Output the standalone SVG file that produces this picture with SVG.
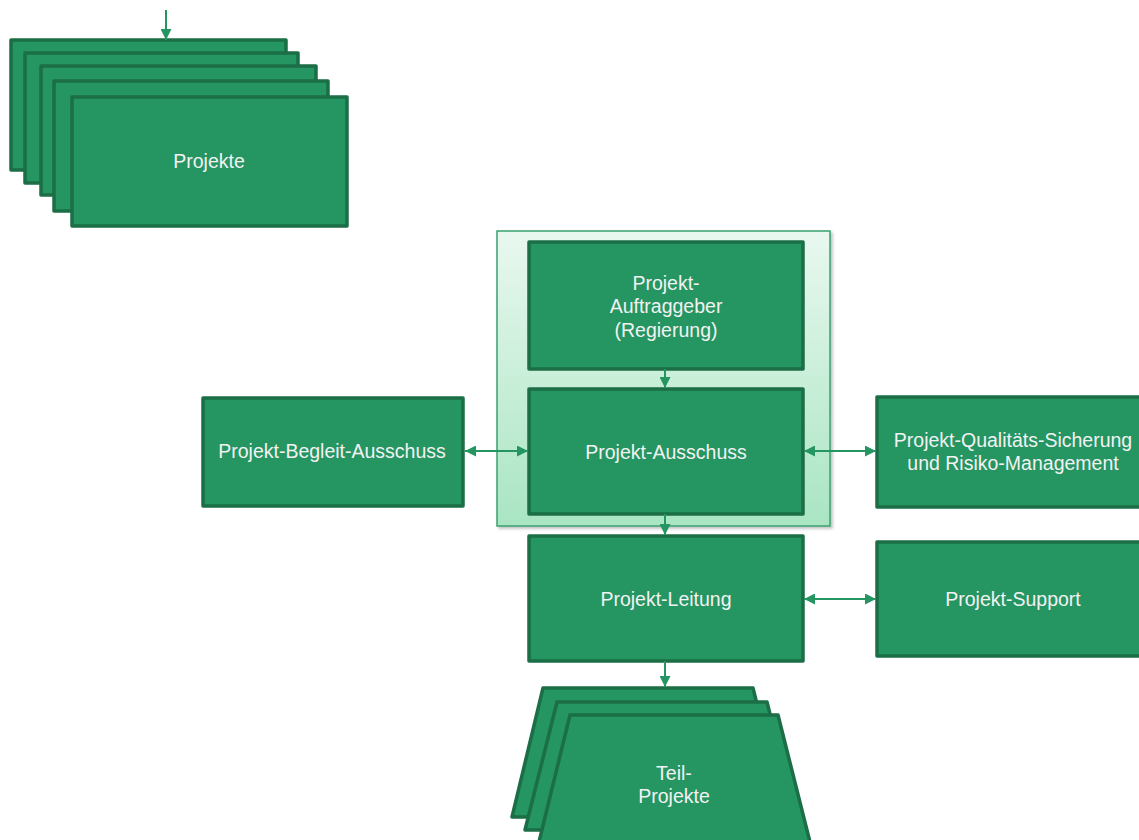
<svg xmlns="http://www.w3.org/2000/svg" width="1139" height="840" viewBox="0 0 1139 840">
<style>
.n{fill:#259562;stroke:#1b6e46;stroke-width:3.5;stroke-linejoin:round}
.t{font-family:"Liberation Sans",Arial,sans-serif;font-size:19.5px;fill:#f2f2f2;text-anchor:middle}
.c{stroke:#259562;stroke-width:2;fill:none}
</style>
<defs>
<linearGradient id="g" x1="0" y1="0" x2="0" y2="1">
<stop offset="0" stop-color="#e9f8ef"/>
<stop offset="1" stop-color="#a9e5c3"/>
</linearGradient>
<marker id="ah" viewBox="0 0 10 10" refX="10" refY="5" markerWidth="11" markerHeight="11" markerUnits="userSpaceOnUse" orient="auto-start-reverse">
<path d="M0,0 L10,5 L0,10 z" fill="#259562"/>
</marker>
<filter id="sh" x="-5%" y="-5%" width="115%" height="115%">
<feDropShadow dx="2" dy="2" stdDeviation="1.5" flood-color="#000" flood-opacity="0.25"/>
</filter>
</defs>
<rect width="1139" height="840" fill="#fff"/>
<g id="gremium">
<rect x="497" y="231" width="333" height="295" fill="url(#g)" stroke="#3aa070" stroke-width="1.5" filter="url(#sh)"/>
</g>
<g id="projekte">
<rect class="n" x="11" y="40" width="275" height="130"/>
<rect class="n" x="25" y="53" width="273" height="130"/>
<rect class="n" x="41" y="66" width="275" height="129"/>
<rect class="n" x="54" y="81" width="274" height="130"/>
<rect class="n" x="72" y="97" width="275" height="129"/>
<text class="t" x="209" y="168">Projekte</text>
</g>
<g id="auftraggeber">
<rect class="n" x="529" y="242" width="274" height="127"/>
<text class="t" x="666" y="290">Projekt-</text>
<text class="t" x="666" y="313">Auftraggeber</text>
<text class="t" x="666" y="337">(Regierung)</text>
</g>
<g id="ausschuss">
<rect class="n" x="529" y="389" width="274" height="125"/>
<text class="t" x="666" y="459">Projekt-Ausschuss</text>
</g>
<g id="leitung">
<rect class="n" x="529" y="536" width="274" height="125"/>
<text class="t" x="666" y="606">Projekt-Leitung</text>
</g>
<g id="begleit">
<rect class="n" x="203" y="398" width="260" height="108"/>
<text class="t" x="332" y="458">Projekt-Begleit-Ausschuss</text>
</g>
<g id="qualitaet">
<rect class="n" x="877" y="397" width="280" height="110"/>
<text class="t" x="1013" y="447">Projekt-Qualitäts-Sicherung</text>
<text class="t" x="1013" y="470">und Risiko-Management</text>
</g>
<g id="support">
<rect class="n" x="877" y="542" width="280" height="114"/>
<text class="t" x="1013" y="606">Projekt-Support</text>
</g>
<g id="teilprojekte">
<polygon class="n" points="543,688 753,688 785,817 512,817"/>
<polygon class="n" points="557,702 767,702 799,830 525,830"/>
<polygon class="n" points="570,715 778,715 811,846 538,846"/>
<text class="t" x="674" y="780">Teil-</text>
<text class="t" x="674" y="803">Projekte</text>
</g>
<g id="connectors">
<line class="c" x1="166" y1="10" x2="166" y2="40" marker-end="url(#ah)"/>
<line class="c" x1="665" y1="369" x2="665" y2="388" marker-end="url(#ah)"/>
<line class="c" x1="665" y1="514" x2="665" y2="535" marker-end="url(#ah)"/>
<line class="c" x1="665" y1="661" x2="665" y2="687" marker-end="url(#ah)"/>
<line class="c" x1="465" y1="451" x2="528" y2="451" marker-start="url(#ah)" marker-end="url(#ah)"/>
<line class="c" x1="804" y1="451" x2="876" y2="451" marker-start="url(#ah)" marker-end="url(#ah)"/>
<line class="c" x1="804" y1="599" x2="876" y2="599" marker-start="url(#ah)" marker-end="url(#ah)"/>
</g>
</svg>
